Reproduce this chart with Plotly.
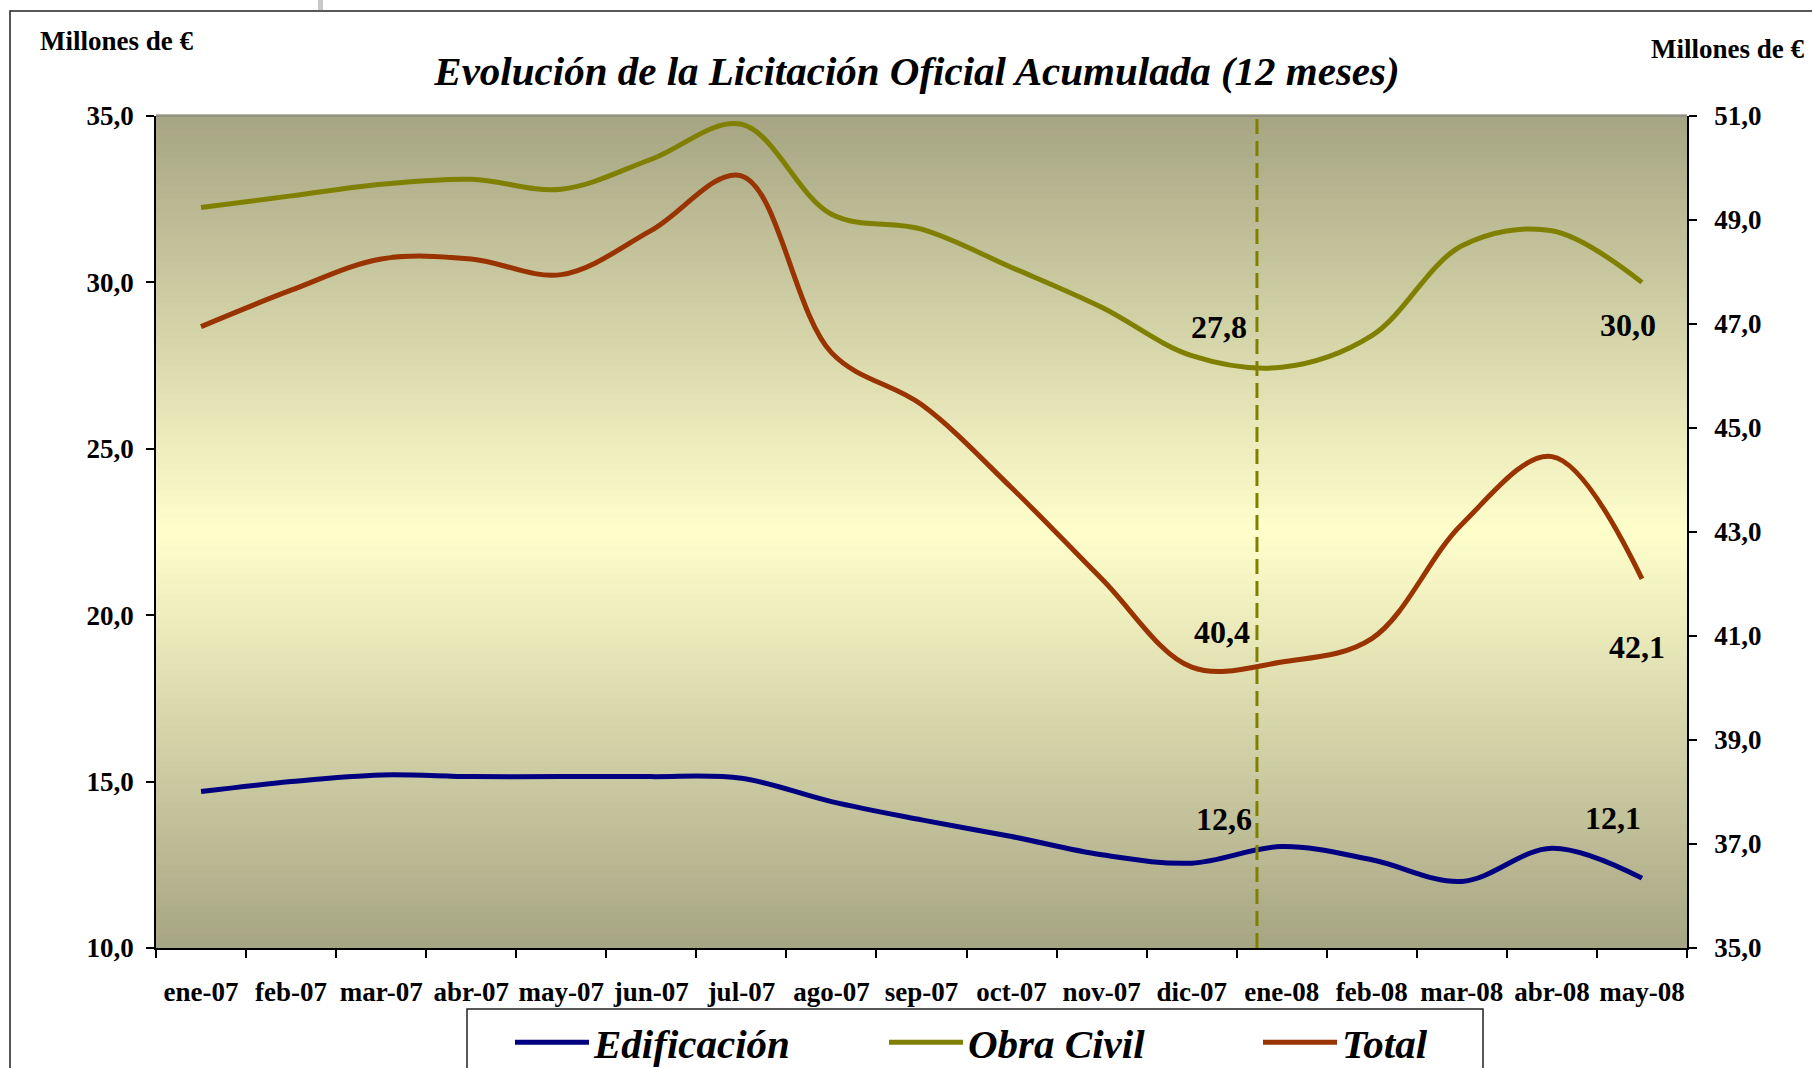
import plotly.graph_objects as go

# ---------------- data ----------------
months = ["ene-07", "feb-07", "mar-07", "abr-07", "may-07", "jun-07", "jul-07",
          "ago-07", "sep-07", "oct-07", "nov-07", "dic-07", "ene-08", "feb-08",
          "mar-08", "abr-08", "may-08"]

edificacion = [14.7, 15.0, 15.2, 15.15, 15.15, 15.15, 15.1, 14.4, 13.85, 13.35,
               12.8, 12.55, 13.05, 12.65, 12.0, 13.0, 12.1]
obra_civil = [32.25, 32.6, 32.95, 33.1, 32.8, 33.7, 34.75, 32.05, 31.6, 30.45,
              29.25, 27.8, 27.45, 28.4, 31.1, 31.55, 30.0]
total = [46.95, 47.65, 48.25, 48.25, 47.95, 48.8, 49.85, 46.45, 45.45, 43.85,
         42.1, 40.4, 40.5, 40.95, 43.15, 44.45, 42.1]

left_ticks = [10, 15, 20, 25, 30, 35]
right_ticks = [35, 37, 39, 41, 43, 45, 47, 49, 51]

value_labels = ["27,8", "30,0", "40,4", "42,1", "12,6", "12,1"]
marker_position = 11.725  # dashed separator, in category index units

# ---------------- geometry helpers ----------------
W, H = 1812, 1068
PL, PR, PT, PB = 156, 1687, 116, 948


def px_x(px):
    return (px - PL) / (PR - PL)


def px_y(py):
    return (PB - py) / (PB - PT)


FONT = "Liberation Serif"

fig = go.Figure()

fig.add_trace(go.Scatter(x=months, y=edificacion, name="Edificación", mode="lines",
                         line=dict(color="#000080", width=5, shape="spline", smoothing=1.0),
                         xaxis="x", yaxis="y"))
fig.add_trace(go.Scatter(x=months, y=obra_civil, name="Obra Civil", mode="lines",
                         line=dict(color="#808000", width=5, shape="spline", smoothing=1.0),
                         xaxis="x", yaxis="y"))
fig.add_trace(go.Scatter(x=months, y=total, name="Total", mode="lines",
                         line=dict(color="#993300", width=5, shape="spline", smoothing=1.0),
                         xaxis="x", yaxis="y2"))

# ---------------- background gradient (plot area) ----------------
shapes = []
edge = (166, 165, 131)
center = (255, 255, 204)
N = 120
for i in range(N):
    t0 = i / N
    t1 = (i + 1) / N
    tm = (t0 + t1) / 2
    d = abs(tm - 0.5) * 2
    c = tuple(int(round(center[k] + (edge[k] - center[k]) * d)) for k in range(3))
    shapes.append(dict(type="rect", xref="paper", yref="paper", x0=0, x1=1,
                       y0=t0, y1=t1 + 0.002, fillcolor="rgb(%d,%d,%d)" % c,
                       line=dict(width=0), layer="below"))

# legend frame
shapes.append(dict(type="rect", xref="paper", yref="paper",
                   x0=px_x(467), x1=px_x(1483), y0=px_y(1080), y1=px_y(1009),
                   line=dict(color="#222222", width=1.5), fillcolor="white", layer="below"))
# top border of plot area (gray)
shapes.append(dict(type="line", xref="paper", yref="paper", x0=0, x1=1, y0=1, y1=1,
                   line=dict(color="#8a8a8a", width=1.5)))
# dashed separator
shapes.append(dict(type="line", xref="x", yref="paper", x0=marker_position, x1=marker_position,
                   y0=0, y1=1, line=dict(color="#808000", width=3, dash="15px,7px")))
# outer chart frame
shapes.append(dict(type="rect", xref="paper", yref="paper",
                   x0=px_x(10), x1=px_x(1840), y0=px_y(1100), y1=px_y(11),
                   line=dict(color="#222222", width=1.5), fillcolor="rgba(0,0,0,0)"))
# small grey mark at the top
shapes.append(dict(type="rect", xref="paper", yref="paper",
                   x0=px_x(318), x1=px_x(323), y0=px_y(10), y1=px_y(-2),
                   line=dict(width=0), fillcolor="#c8c8c8"))

# ---------------- annotations ----------------
ann_font = dict(family=FONT, size=32, color="black", weight="bold")
ann_pos = [(1219, 327), (1628, 325), (1222, 632), (1637, 647), (1224, 819), (1613, 818)]
annotations = []
for txt, (ax_, ay_) in zip(value_labels, ann_pos):
    annotations.append(dict(text=txt, xref="paper", yref="paper", x=px_x(ax_), y=px_y(ay_),
                            xanchor="center", yanchor="middle", showarrow=False, font=ann_font))

unit_font = dict(family=FONT, size=27, color="black", weight="bold")
annotations.append(dict(text="Millones de €", xref="paper", yref="paper",
                        x=px_x(38), y=px_y(41), xanchor="left", yanchor="middle",
                        showarrow=False, font=unit_font))
annotations.append(dict(text="Millones de €", xref="paper", yref="paper",
                        x=px_x(1806), y=px_y(49), xanchor="right", yanchor="middle",
                        showarrow=False, font=unit_font))

tick_font = dict(family=FONT, size=27, color="black", weight="bold")
boundaries = [i - 0.5 for i in range(len(months) + 1)]

fig.update_layout(
    width=W, height=H,
    margin=dict(l=PL, r=W - PR, t=PT, b=H - PB, pad=0, autoexpand=False),
    paper_bgcolor="white",
    plot_bgcolor="rgba(0,0,0,0)",
    separators=",.",
    title=dict(text="Evolución de la Licitación Oficial Acumulada (12 meses)",
               x=917 / W, xanchor="center", y=1 - 71 / H, yanchor="middle",
               font=dict(family=FONT, size=41, color="black", weight="bold", style="italic")),
    showlegend=True,
    legend=dict(orientation="h", xref="container", yref="container",
                x=510 / W, xanchor="left", y=1 - 1009 / H, yanchor="top",
                font=dict(family=FONT, size=41, color="black", weight="bold", style="italic"),
                bgcolor="rgba(0,0,0,0)", borderwidth=0,
                entrywidth=285, entrywidthmode="pixels", itemwidth=74,
                traceorder="normal"),
    xaxis=dict(type="category", categoryorder="array", categoryarray=months,
               range=[-0.5, 16.5], tickson="boundaries", ticks="outside", ticklen=8,
               tickwidth=1.5, tickcolor="black", showline=True, linecolor="black",
               linewidth=1.5, showgrid=False, zeroline=False, tickfont=tick_font,
               tickangle=0, automargin=False, ticklabelstandoff=19, fixedrange=True),
    yaxis=dict(range=[10, 35], tickvals=left_ticks, tickformat=".1f", ticks="outside",
               ticklen=8, tickwidth=1.5, tickcolor="black", showline=True,
               linecolor="black", linewidth=1.5, showgrid=False, zeroline=False,
               tickfont=tick_font, automargin=False, ticklabelstandoff=7),
    yaxis2=dict(range=[35, 51], tickvals=right_ticks, tickformat=".1f", overlaying="y",
                side="right", ticks="outside", ticklen=8, tickwidth=1.5, tickcolor="black",
                showline=True, linecolor="black", linewidth=1.5, showgrid=False,
                zeroline=False, tickfont=tick_font, automargin=False, ticklabelstandoff=12),
    # inner halves of the crossing tick marks
    yaxis3=dict(range=[10, 35], tickvals=left_ticks, overlaying="y", side="left", anchor="x",
                ticks="inside", ticklen=8, tickwidth=1.5, tickcolor="black",
                showticklabels=False, showline=False, showgrid=False, zeroline=False,
                automargin=False),
    yaxis4=dict(range=[35, 51], tickvals=right_ticks, overlaying="y", side="right", anchor="x",
                ticks="inside", ticklen=8, tickwidth=1.5, tickcolor="black",
                showticklabels=False, showline=False, showgrid=False, zeroline=False,
                automargin=False),
    xaxis2=dict(range=[-0.5, len(months) - 0.5], tickvals=boundaries, overlaying="x",
                side="bottom", anchor="y", ticks="inside", ticklen=8, tickwidth=1.5,
                tickcolor="black", showticklabels=False, showline=False, showgrid=False,
                zeroline=False, automargin=False),
    shapes=shapes,
    annotations=annotations,
)

fig.write_html("out.html", config={"displayModeBar": False},
               post_script="document.body.style.margin='0';")
